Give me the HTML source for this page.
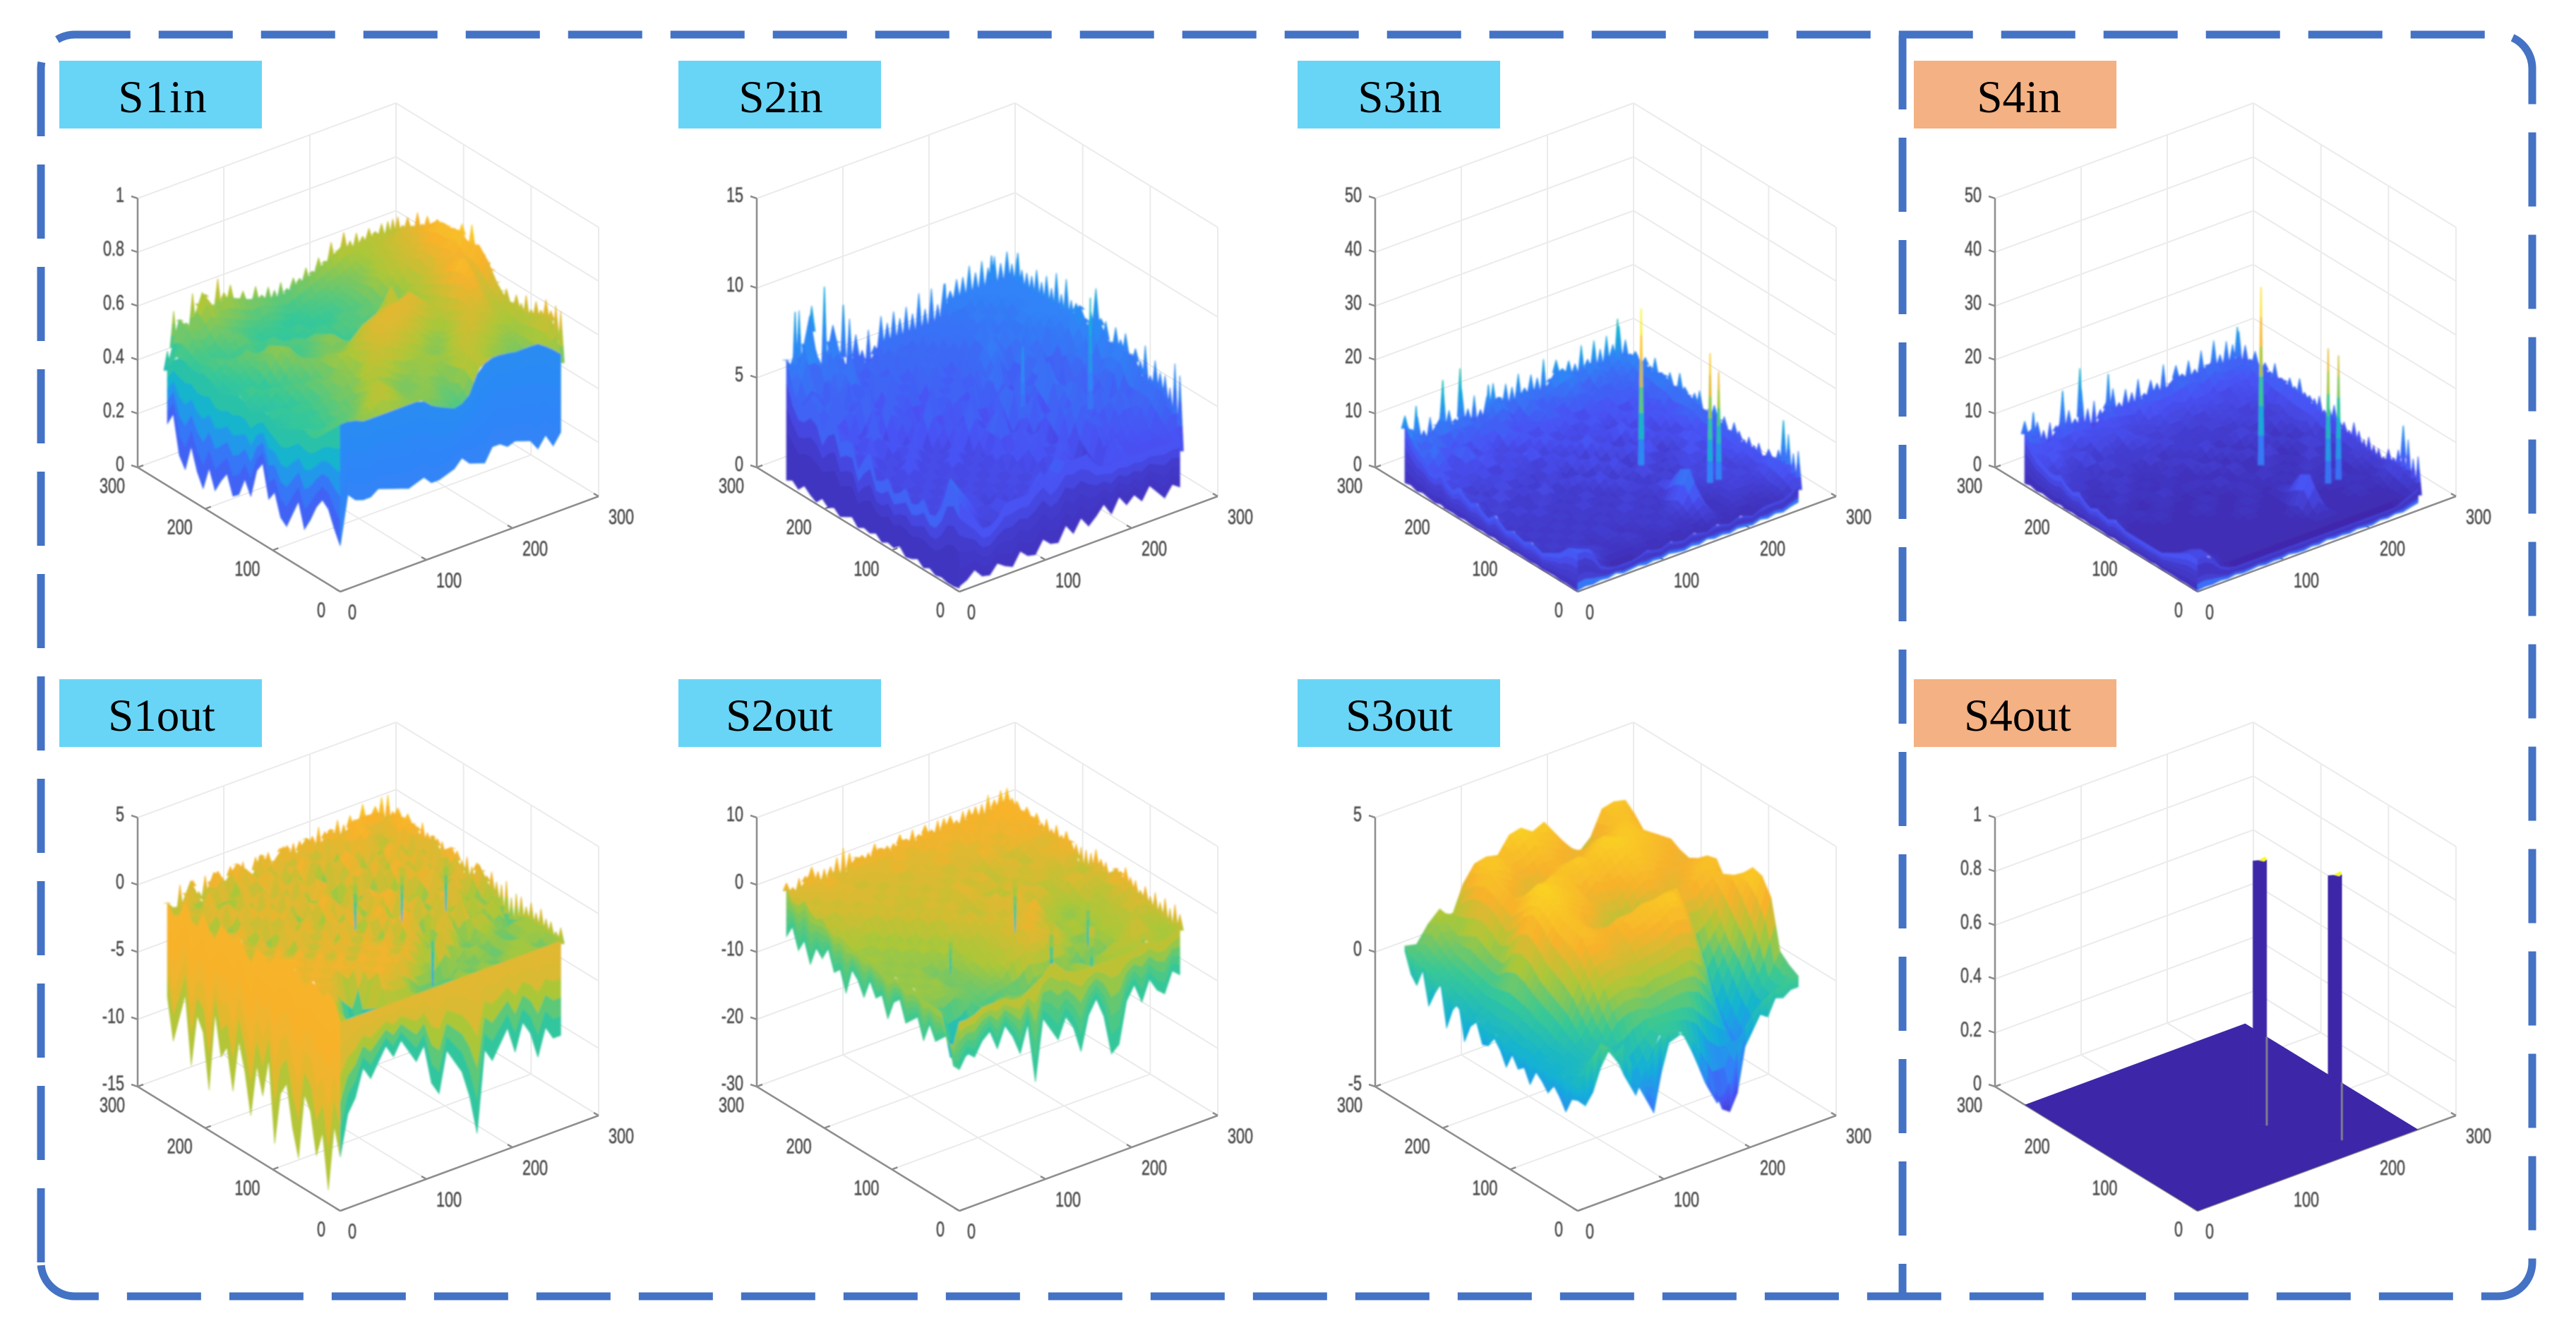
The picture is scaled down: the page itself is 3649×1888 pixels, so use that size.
<!DOCTYPE html>
<html lang="en">
<head>
<meta charset="utf-8">
<title>S1–S4 input and output surfaces</title>
<style>
html,body{margin:0;padding:0;background:#fff}
svg{display:block}
.box-label{font-family:"Liberation Serif",serif;font-size:65px;fill:#000;text-anchor:middle}
.tick{font-family:"Liberation Sans",sans-serif;font-size:30px;fill:#484848;stroke:#484848;stroke-width:0.5}
</style>
</head>
<body>
<svg id="chart-root" width="3649" height="1888" viewBox="0 0 3649 1888">
<defs>
<filter id="soft" x="-5%" y="-5%" width="110%" height="110%"><feGaussianBlur stdDeviation="1.2"/></filter>
<filter id="softText" x="-5%" y="-5%" width="110%" height="110%"><feGaussianBlur stdDeviation="0.7"/></filter>
</defs>
<rect x="0" y="0" width="3649" height="1888" fill="#fff"/>
<g id="panels"></g>
<path d="M58 1788 V97 A48 48 0 0 1 106 49 H3539 A48 48 0 0 1 3587 97 V1788 A48 48 0 0 1 3539 1836 H106 A48 48 0 0 1 58 1788" fill="none" stroke="#4472c4" stroke-width="11" stroke-dasharray="105 40"/>
<line x1="2695" y1="50" x2="2695" y2="1836" stroke="#4472c4" stroke-width="11" stroke-dasharray="105 40"/>
<g><rect x="84" y="86" width="287" height="96" fill="#69d5f6"/><text class="box-label" x="231" y="159" letter-spacing="2">S1in</text></g>
<g><rect x="961" y="86" width="287" height="96" fill="#69d5f6"/><text class="box-label" x="1106" y="159">S2in</text></g>
<g><rect x="1838" y="86" width="287" height="96" fill="#69d5f6"/><text class="box-label" x="1983" y="159">S3in</text></g>
<g><rect x="2711" y="86" width="287" height="96" fill="#f4b183"/><text class="box-label" x="2860" y="159">S4in</text></g>
<g><rect x="84" y="962" width="287" height="96" fill="#69d5f6"/><text class="box-label" x="229" y="1035">S1out</text></g>
<g><rect x="961" y="962" width="287" height="96" fill="#69d5f6"/><text class="box-label" x="1104" y="1035">S2out</text></g>
<g><rect x="1838" y="962" width="287" height="96" fill="#69d5f6"/><text class="box-label" x="1982" y="1035">S3out</text></g>
<g><rect x="2711" y="962" width="287" height="96" fill="#f4b183"/><text class="box-label" x="2858" y="1035">S4out</text></g>
</svg>
<script>
const floorTicks=[0,100,200,300];
const s1inZTicks=[0,0.2,0.4,0.6,0.8,1];
const s2inZTicks=[0,5,10,15];
const s3inZTicks=[0,10,20,30,40,50];
const s4inZTicks=[0,10,20,30,40,50];
const s1outZTicks=[-15,-10,-5,0,5];
const s2outZTicks=[-30,-20,-10,0,10];
const s3outZTicks=[-5,0,5];
const s4outZTicks=[0,0.2,0.4,0.6,0.8,1];

/* S1in heights, in hundredths. Rows run from back (y=256) to front (y=0); columns from x=0 to x=256. */
const s1inZ=[
[44,60,55,67,60,62,60,58,57,55,55,57,58,60,62,65,63,64,65,63],
[50,58,56,60,58,56,54,52,54,52,50,52,54,56,58,60,62,64,66,66],
[50,54,52,56,54,52,50,52,50,48,50,52,52,54,56,58,62,66,68,70],
[48,52,50,54,56,52,50,48,50,52,48,50,50,54,56,60,64,66,70,72],
[50,54,52,50,52,50,54,50,48,50,52,50,54,52,56,62,64,68,70,74],
[48,50,54,56,52,50,52,54,52,48,50,54,52,56,54,60,66,68,72,78],
[46,50,52,54,58,54,50,52,56,52,50,52,54,52,58,58,62,70,74,80],
[48,48,50,56,60,58,52,54,58,54,52,50,56,60,56,62,64,68,74,80],
[50,52,48,52,58,56,54,56,60,56,54,52,62,70,60,60,66,72,76,81],
[46,50,52,50,54,58,56,58,56,58,56,58,56,62,62,62,68,74,72,78],
[48,46,50,54,52,56,60,58,62,66,68,70,70,72,68,64,70,78,70,80],
[50,50,48,52,56,54,62,62,66,70,71,72,72,70,66,64,72,80,68,76],
[46,48,52,50,56,58,60,64,70,71,72,70,68,62,60,66,74,76,66,70],
[48,50,48,54,54,60,58,66,70,70,68,66,60,58,62,68,72,70,64,66],
[50,48,52,52,58,56,64,68,68,66,62,60,58,60,66,70,68,66,62,66],
[52,50,50,56,54,62,66,64,60,58,60,62,60,64,70,68,64,60,60,64],
[50,52,54,54,58,64,60,58,56,60,62,58,62,68,66,62,60,58,60,66],
[54,52,52,58,62,66,62,58,58,60,56,56,66,66,62,60,58,56,60,68],
[58,56,58,62,68,64,60,58,60,58,54,58,66,64,60,58,60,58,60,69],
[62,62,60,60,60,60,60,60,56,54,52,54,64,66,66,65,65,65,62,58]];
const s1inHemLeft=[23,28,14,10,20,12,7,16,9,14,18,11,13,20,15,26,30,18,22,14,12,18,24,15,20,26,30,28,22,17];
const s1inHemRight=[17,35,32,31,31,33,32,31,30,29,30,31,28,28,29,30,33,30,29,28,33,33,31,32,31,30,26,30,25,29];
const s1inFringeBack=[50,64,60,58,68,62,66,60,70,64,66,60,62,58,62,58,60,58,60,57,60,59,62,60,64,62,68,64,70,66,68,66,68,66,68,66];
const s1inFringeSide=[68,70,72,70,74,72,78,75,79,76,80,78,80,80,80,84,78,86,76,70,70,74,70,68,70,66,70,68,72,68,72,70,75,72,75,74];
const s1inSpikes=[];

/* S2in heights. */
const s2inZ=[
[7,6,9,5,8,5,6,5,6,6,6,6,6,6,7,7,7,7,7,7],
[5,7,4,7,5,6,4,6,5,6,5,6,6,6,6,6,7,7,7,7],
[5,4,6,5,7,4,6,4,6,5,6,5,6,6,6,7,6,7,7,7],
[6,5,3,6,4,6,5,6,4,6,5,6,5,6,6,6,7,6,7,7],
[4,6,5,4,6,3,6,4,6,5,6,4,6,5,7,6,6,7,7,7],
[6,3,5,6,3,6,4,6,3,6,4,6,5,6,5,7,6,7,7,7],
[4,5,3,4,6,4,5,3,6,4,6,4,6,7,6,5,7,6,7,7],
[5,3,6,3,4,5,3,6,4,6,3,6,5,6,4,7,5,7,6,7],
[3,5,3,5,3,4,6,3,5,4,6,4,7,3,6,5,6,4,7,8],
[5,3,4,3,5,3,4,5,3,6,3,5,4,6,4,7,3,6,6,7],
[3,4,3,5,3,4,3,4,6,3,5,6,3,5,6,4,6,5,7,8],
[4,3,5,3,4,3,5,3,4,5,3,6,5,3,7,5,3,6,5,7],
[3,4,3,4,3,5,3,4,3,6,4,3,6,4,5,6,4,5,6,7],
[4,3,4,3,4,3,4,3,5,3,5,4,3,6,4,6,5,3,6,7],
[3,4,3,4,3,4,3,4,3,5,4,5,3,5,6,4,6,5,4,7],
[4,3,4,3,4,3,4,3,4,3,5,3,5,3,5,5,4,6,5,6],
[3,4,3,4,3,4,3,4,3,4,3,5,4,2,5,4,5,4,5,6],
[4,5,3,4,3,3,4,3,4,3,4,4,3,2,4,4,4,5,4,6],
[6,5,4,3,4,3,3,4,4,5,4,4,3,2,5,4,4,4,4,5],
[5,4,3,3,4,4,4,5,4,5,5,5,4,4,4,4,4,4,4,4]];
const s2inHemLeft=[0.3,0.5,0.2,0.6,0.3,0.1,0.5,0.2,0.4,0.1,0.3,0.5,0.1,0.3,0.2,0.4,0.1,0.3,0.2,0.5,0.1,0.2,0.4,0.1,0.3,0.1,0.2,0.1,0.1,0.2];
const s2inHemRight=[0.3,0.5,0.9,0.4,0.3,0.8,0.5,0.3,1,0.6,0.5,1.2,0.8,0.7,1.5,0.9,1.6,1,1.4,1.9,1.2,2,1.4,1.8,1.3,2,1.5,1,1.6,1.3];
const s2inFringeBack=[7,7,9.5,6,9.5,6.5,8,6,7,6,8,7,6,7,6,7.5,7,7.5,7,7.5,7,8,7,8,7,8,7.5,8,8,8.5,8,8.5,8,8.5,8,8.5];
const s2inFringeSide=[8.5,8,8.5,8,8,8,8.5,8,8.5,8,9,8,9,8,8,8,7.5,8,9.5,8,8,7,8,7.5,8,7,7.5,7,8,6.5,7.5,7,7,6.5,8,7.5];
const s2inSpikes=[[192,51,11.8,5.6],[145,91,9,5],[44,256,10.3,6],[10,256,9.5,6],[66,256,8.9,6],[238,256,8.6,7],[256,240,8.8,7],[184,256,8,6]];

/* S3in heights. */
const s3inZ=[
[11,9,7,10,8,9,7,8,10,8,9,9,8,11,10,9,10,9,10,9],
[8,6,9,5,8,6,8,6,7,5,9,6,8,7,9,6,9,7,9,10],
[7,9,5,7,4,7,5,8,5,7,6,8,5,8,6,8,6,8,7,10],
[5,7,4,8,5,6,4,6,7,4,7,5,7,4,7,5,8,6,8,9],
[7,4,6,4,7,4,6,4,5,7,4,6,4,7,5,7,4,7,6,10],
[4,6,4,6,3,6,4,7,4,5,6,4,6,5,4,6,7,5,7,9],
[6,3,5,4,6,4,5,3,6,4,5,7,4,6,7,4,5,7,5,9],
[4,5,3,6,3,5,3,6,4,6,3,5,6,3,5,7,4,6,6,9],
[5,3,6,3,5,3,5,4,3,5,6,3,5,6,4,5,6,4,7,8],
[3,5,3,4,3,6,3,5,5,3,4,6,3,4,7,3,5,6,5,8],
[5,3,5,3,5,3,4,3,4,6,3,5,4,6,3,5,4,7,5,8],
[3,4,3,5,3,4,3,5,3,4,5,3,6,3,5,4,7,4,6,7],
[4,3,4,3,4,3,5,3,4,3,5,4,3,5,3,6,4,6,5,7],
[3,4,3,4,3,4,3,4,3,5,3,4,5,3,6,4,5,4,6,6],
[4,3,4,3,4,3,4,3,5,3,4,3,6,4,4,5,6,4,5,6],
[3,4,3,4,3,4,3,4,3,4,3,4,9,3,4,4,4,5,4,6],
[4,3,4,3,3,4,3,3,4,3,4,5,10,3,3,4,5,4,5,7],
[5,5,4,4,3,3,4,3,3,4,3,4,6,3,3,4,3,4,4,7],
[7,6,5,3,3,3,3,3,3,3,3,3,4,3,3,3,3,3,4,6],
[7,7,3,2,2,2,3,2,3,2,3,2,3,2,3,2,3,3,3,5]];
const s3inHemLeft=[0.5,0.8,0.3,0.7,0.4,0.2,0.6,0.3,0.4,0.2,0.5,0.3,0.2,0.4,0.2,0.5,0.2,0.3,0.1,0.3,0.2,0.1,0.3,0.1,0.2,0.3,0.1,0.2,0.1,0.1];
const s3inHemRight=[0.2,0.5,0.3,0.6,0.4,0.8,0.3,0.5,0.7,0.3,0.6,0.4,0.8,0.5,0.3,0.7,0.4,0.9,0.5,0.7,0.4,0.8,0.6,0.4,0.9,0.6,1,0.7,1.2,1.5];
const s3inFringeBack=[13,10,12,9,11,9,17,11,9,14,10,12,9,11,13,10,12,11,13,10,12,11,14,10,13,11,12,11,14,11,14,12,14,12,15,11];
const s3inFringeSide=[12,10,11,9,11,10,12,9,10,11,9,12,10,9,10,11,8,9,10,8,9,7,9,8,7,8,7,8,6,8,7,9,11,13,10,11];
const s3inSpikes=[[145,91,37,8],[174,26,32,8],[184,26,28,8],[243,251,17,10],[64,256,18,9],[44,256,17,8],[13,256,14,8],[97,256,13,8],[256,22,15,8]];

/* S4in heights. */
const s4inZ=[
[10,9,6,9,8,8,6,9,8,8,8,9,8,10,9,9,10,9,9,8],
[7,6,8,5,7,6,7,6,6,5,8,6,7,6,8,6,8,7,8,9],
[6,8,5,6,4,7,5,7,5,6,5,7,5,7,6,7,5,7,6,9],
[5,6,4,7,4,5,4,6,6,4,6,4,6,4,6,5,7,6,7,8],
[6,4,5,3,6,4,5,4,5,6,4,5,4,6,5,6,4,6,5,9],
[4,5,3,5,3,5,3,6,3,4,5,4,5,4,4,5,6,4,6,8],
[5,3,4,4,5,3,4,3,5,4,4,6,3,5,6,4,4,6,5,8],
[3,4,3,5,3,4,3,5,3,5,3,4,5,3,4,6,3,5,5,8],
[4,3,5,3,4,3,4,3,3,4,5,3,4,5,3,4,5,3,6,7],
[3,4,3,3,3,5,3,4,4,3,3,5,3,3,6,3,4,5,4,7],
[4,3,4,3,4,3,3,3,3,5,3,4,3,5,3,4,3,6,4,7],
[3,3,3,4,3,3,3,4,3,3,4,3,5,3,4,3,6,3,5,6],
[3,3,3,3,3,3,4,3,3,3,4,3,3,4,3,5,3,5,4,6],
[3,3,3,3,3,3,3,3,3,4,3,3,4,3,5,3,4,3,5,5],
[3,3,3,3,3,3,3,3,4,3,3,3,5,3,3,4,5,3,4,5],
[3,3,3,3,3,3,3,3,3,3,3,3,8,3,3,3,3,4,3,5],
[4,3,3,3,3,3,3,3,3,3,3,4,9,3,3,3,4,3,4,6],
[5,5,3,3,3,3,3,3,3,3,3,3,5,3,3,3,3,3,3,6],
[6,6,4,3,3,3,3,3,3,3,3,3,3,3,3,3,3,3,3,5],
[6,6,3,2,2,2,2,2,2,2,2,2,2,2,2,2,2,2,3,4]];
const s4inHemLeft=[0.4,0.7,0.3,0.6,0.3,0.2,0.5,0.2,0.4,0.2,0.4,0.2,0.3,0.3,0.1,0.4,0.2,0.3,0.1,0.2,0.2,0.1,0.3,0.1,0.2,0.2,0.1,0.2,0.1,0.1];
const s4inHemRight=[0.2,0.4,0.3,0.5,0.3,0.6,0.3,0.4,0.6,0.3,0.5,0.4,0.7,0.4,0.3,0.6,0.4,0.8,0.5,0.6,0.4,0.7,0.5,0.4,0.8,0.6,0.9,0.7,1.1,1.4];
const s4inFringeBack=[12,10,11,9,10,9,15,11,9,14,10,11,9,10,12,9,11,10,12,9,11,10,13,9,12,10,12,10,13,10,14,11,13,12,14,10];
const s4inFringeSide=[11,9,11,9,10,9,11,8,9,10,9,11,9,9,9,10,8,9,10,8,8,7,9,8,7,8,7,7,6,8,7,9,10,12,9,10];
const s4inSpikes=[[145,91,41,8],[172,26,33,8],[184,26,31,8],[243,251,15.5,10],[64,256,18,9],[44,256,15,8],[10,256,13,8],[97,256,15,8],[256,22,14,8]];

/* S1out heights. */
const s1outZ=[
[0,-1,1,-1,1,0,1,-1,1,0,1,0,1,0,1,0,1,1,1,0],
[-1,1,-2,0,1,-2,1,0,-1,1,-1,1,-1,1,0,1,1,0,0,1],
[1,-1,1,-1,-2,1,-1,1,-2,0,1,-1,1,-2,1,0,1,-1,1,1],
[-1,1,0,-2,1,0,-2,1,0,-2,1,-2,0,1,-1,1,-2,1,0,1],
[1,-2,1,0,-2,1,0,-2,1,0,-2,1,-1,1,-2,0,1,-1,1,0],
[-1,0,-2,1,0,-2,1,0,-2,1,0,-2,1,0,1,-2,1,0,-2,1],
[1,-1,1,-1,1,0,-2,1,-1,1,-2,0,1,-2,0,1,-1,1,0,0],
[0,1,-2,1,-1,1,-1,0,1,-2,1,-1,-2,1,-2,1,0,-2,1,1],
[1,-1,0,-2,1,-2,1,-2,1,0,-2,1,0,-2,1,-1,1,0,-1,0],
[-1,1,-1,1,0,1,-1,1,-2,1,-1,0,1,-1,0,-2,1,-1,1,-1],
[1,-1,1,-2,1,-1,1,0,1,-2,1,-2,1,0,-2,1,-1,1,-1,1],
[0,1,-1,1,-1,1,-2,1,-1,0,1,-1,-2,1,-1,0,1,-1,-2,0],
[1,0,1,-1,1,0,1,-1,1,-2,0,1,-1,-2,1,-1,-2,0,-1,-1],
[1,1,0,1,-1,1,-1,1,-1,1,-2,1,-1,0,-2,1,-1,-2,0,-2],
[1,0,1,0,1,-1,1,0,1,-1,1,-1,-2,1,-1,-2,0,-1,-2,-2],
[0,1,0,1,0,1,0,1,-1,1,-1,-1,1,-1,-2,-1,-1,-2,-1,-1],
[1,0,1,0,1,0,1,0,1,-1,-1,1,-2,-1,-1,-2,-1,-2,-1,-1],
[0,1,-3,-4,0,1,0,1,-1,-1,-2,-2,-1,-2,-1,-2,-1,-1,-1,-1],
[1,-2,-5,-4,1,0,0,-2,-2,-2,-2,-1,-2,-1,-2,-1,-1,-1,-2,-1],
[-1,-1,-1,-1,-1,-1,-1,-1,-1,-1,-1,-1,-1,-1,-1,-1,-1,-1,-1,-1]];
const s1outHemLeft=[-7,-10,-8,-6,-11,-7,-8,-12,-6,-9,-8,-11,-7,-9,-12,-8,-10,-7,-13,-9,-8,-11,-13,-8,-9,-12,-10,-14,-9,-11];
const s1outHemRight=[-11,-8,-7,-5,-6,-5,-4,-5,-4,-5,-6,-5,-8,-9,-6,-7,-8,-10,-13,-7,-8,-7,-6,-8,-6,-7,-9,-7,-8,-8];
const s1outFringeBack=[0,-0.5,1,0,1,0,1,-0.5,1,0,1,1,1,0,1,1,1,0,1,1,1,1,1,1,1.5,1,1,1.5,1,1.5,1,2,1,1.5,2,1.5];
const s1outFringeSide=[2,1,1.5,1,1.5,1,1,1.5,1,1,1,1,0.5,1,1,0.5,1,0.5,1,0.5,0.5,1,0.5,0.5,1,0,0.5,0.5,0,0.5,0,0.5,0,0,-0.5,0];
const s1outSpikes=[[174,85,-5,0],[212,179,-4,0],[168,192,-4,0],[256,170,-4,0]];

/* S2out heights. */
const s2outZ=[
[2,1,3,1,2,1,3,2,3,2,3,2,3,2,3,2,3,2,3,3],
[0,2,1,3,1,2,1,2,1,3,1,3,2,3,2,3,2,3,3,3],
[2,0,2,1,2,0,2,1,3,1,2,1,3,1,3,2,3,2,3,3],
[0,2,0,2,1,2,0,2,0,2,1,3,1,2,1,3,1,3,2,3],
[1,-1,2,0,2,0,2,0,2,1,2,0,2,1,3,1,3,2,3,2],
[-1,1,0,2,0,2,0,2,0,2,0,2,1,0,2,1,0,2,1,2],
[0,-1,1,-1,2,0,1,0,2,0,2,0,2,0,1,2,0,2,2,2],
[-1,0,-2,1,-1,2,0,2,0,1,2,1,2,0,2,0,2,1,2,3],
[-1,-2,0,-2,1,-1,2,0,2,0,2,0,-1,2,0,2,1,0,2,0],
[-1,-1,-2,0,-2,1,-1,2,0,0,1,2,0,2,1,-1,0,1,0,0],
[-1,-2,-1,-2,0,-2,1,0,2,0,2,1,3,0,2,0,0,2,1,2],
[-2,-1,-2,-1,-2,0,-1,1,0,2,0,2,1,-1,0,-1,-1,1,0,1],
[-1,-2,-1,-3,-1,-2,0,-1,1,0,2,1,3,0,-1,-2,-1,0,-1,3],
[-2,-1,-2,-2,-3,-1,-1,0,0,2,1,3,0,-2,-1,-1,0,-1,1,2],
[-1,-2,-1,-3,-2,-2,0,-1,1,0,3,0,1,-1,0,-2,-1,0,0,1],
[-2,-1,-2,-2,-3,-2,-1,0,0,2,1,2,0,-2,-3,-1,0,-1,2,1],
[-2,-3,-2,-3,-3,-2,-2,0,1,0,1,0,-3,-1,-2,-1,-1,0,0,0],
[-2,-7,-7,-3,-4,-4,-3,-4,-2,-2,-3,-2,-4,-2,-3,-1,0,1,-1,0],
[-8,-9,-8,-3,-2,-2,-3,-2,-3,-2,-2,-1,-2,-1,0,0,1,0,-1,-1],
[-2,-2,-1,-1,-1,-2,-1,0,2,0,-1,-1,-1,-1,-1,-1,0,-1,-1,0]];
const s2outHemLeft=[-5,-3,-6,-4,-7,-4,-5,-3,-6,-5,-8,-4,-5,-7,-4,-6,-5,-8,-5,-4,-7,-6,-5,-8,-5,-7,-6,-5,-9,-9];
const s2outHemRight=[-9,-7,-8,-6,-5,-8,-5,-7,-10,-6,-15,-6,-8,-10,-7,-9,-13,-8,-6,-9,-15,-14,-8,-6,-9,-6,-8,-9,-6,-7];
const s2outFringeBack=[3,2,3,3,4,3,3,3,4,3,4,3,3,3,4,3,3,3,4,3,4,3,4,3,4,4,4,3,4,4,4,4,5,4,5,4];
const s2outFringeSide=[5,4,4,3,4,3,4,3,4,3,4,3,4,3,3,3,3,3,4,3,3,2,3,3,4,3,3,2,3,2,3,2,3,2,3,2];
const s2outSpikes=[[66,256,5,1],[187,156,-7,1],[161,69,-10,1],[185,40,-8,1],[223,94,-7,1],[83,119,-6,1],[223,12,-5,1]];

/* S3out heights, in tenths. */
const s3outZ=[
[9,8,14,18,13,24,30,31,30,36,37,34,36,30,24,20,24,33,34,33],
[6,10,16,14,20,30,34,33,31,33,36,33,31,28,24,22,27,32,33,30],
[5,8,12,12,24,32,35,33,28,28,31,30,27,26,27,26,30,33,32,26],
[4,6,9,14,26,34,31,28,24,24,28,28,25,28,32,30,34,34,30,25],
[2,4,8,16,26,32,27,24,25,26,30,31,30,33,36,34,35,33,31,28],
[0,3,7,14,24,30,26,26,30,32,34,35,33,36,37,36,34,33,30,29],
[-2,2,6,12,20,30,32,33,35,33,32,34,30,34,36,34,32,30,28,27],
[-4,0,5,12,24,34,37,36,33,32,26,30,28,29,33,33,30,28,26,26],
[-2,0,6,18,30,37,38,35,33,30,26,24,24,28,31,30,26,26,28,28],
[-5,-1,7,20,33,37,36,33,30,28,22,20,18,24,26,26,24,27,30,31],
[-3,0,6,18,30,35,33,30,26,22,18,18,16,16,22,24,26,30,33,32],
[-5,-1,5,14,26,33,32,28,22,22,24,24,20,22,28,28,28,32,32,26],
[-6,-2,3,12,24,32,31,29,28,30,30,32,32,33,33,22,22,26,32,30],
[-5,-2,2,10,22,31,30,28,24,30,32,33,35,35,28,6,12,18,32,33],
[-7,-4,0,8,18,26,27,25,22,27,28,30,33,32,20,-6,4,12,28,37],
[-5,-3,-1,4,12,20,22,22,20,22,22,24,26,24,12,-14,-4,8,22,36],
[-6,-4,-2,0,6,14,16,16,14,16,16,17,18,14,2,-18,-10,2,14,30],
[-4,-3,-2,0,2,8,10,10,8,9,10,10,8,2,-6,-20,-14,-2,4,12],
[-5,-2,1,3,0,-4,0,4,5,4,3,0,-8,-12,-12,-16,-8,-2,3,9],
[-4,3,9,5,-6,-15,-5,4,4,2,-8,-20,-29,-25,-8,-1,3,5,6,7]];
const s3outHemLeft=[7,0,-3,4,-8,-2,3,-12,-4,0,-13,-6,-3,-10,-9,-5,-8,-13,-7,-11,-9,-14,-8,-10,-13,-9,-12,-16,-10,-9];
const s3outHemRight=[-9,-12,-8,0,5,3,6,-3,-12,-18,-24,-10,0,1,2,-2,-8,-14,-24,-32,-34,-28,-12,-7,-2,-4,2,1,3,3];
const s3outFringeBack=[];
const s3outFringeSide=[];
const s3outSpikes=[];

/* S4out: flat floor with two narrow peaks. */
const s4outZ=[[0,0],[0,0]];
const s4outPeakX=[151,188];
const s4outPeakY=[90,26];
const s4outPeakZ=[0.99,0.99];

const parulaStops=[[0,62,38,168],[0.125,72,82,244],[0.25,46,135,247],[0.375,18,177,214],[0.5,55,200,151],[0.625,171,199,57],[0.75,247,178,44],[0.875,250,212,34],[1,249,251,21]];

const NS=document.getElementById('chart-root').namespaceURI;
const panelsRoot=document.getElementById('panels');

function parula(t){
  t=Math.max(0,Math.min(1,t));
  for(let i=1;i<parulaStops.length;i++){
    if(t<=parulaStops[i][0]){
      const a=parulaStops[i-1],b=parulaStops[i];
      const f=(t-a[0])/(b[0]-a[0]);
      return 'rgb('+Math.round(a[1]+(b[1]-a[1])*f)+','+Math.round(a[2]+(b[2]-a[2])*f)+','+Math.round(a[3]+(b[3]-a[3])*f)+')';
    }
  }
  return 'rgb(249,251,21)';
}
function make(parent,tag,attrs){
  const el=document.createElementNS(NS,tag);
  for(const k in attrs){el.setAttribute(k,attrs[k]);}
  parent.appendChild(el);
  return el;
}
function axisFunctions(ox,oy,zMin,zMax){
  return {
    px:(x,y)=>ox+482+x/300*366-y/300*287,
    py:(x,y,z)=>oy+838-x/300*135-y/300*176-(z-zMin)/(zMax-zMin)*381
  };
}
function pts(list){return list.map(p=>p[0].toFixed(1)+','+p[1].toFixed(1)).join(' ');}

function drawAxes(name,ax,zTicks){
  const zMin=zTicks[0],zMax=zTicks[zTicks.length-1];
  const grid=make(panelsRoot,'g',{stroke:'#ebebeb','stroke-width':2,fill:'none'});
  
  
  const seg=(parent,a,b)=>make(parent,'line',{x1:ax.px(a[0],a[1]),y1:ax.py(a[0],a[1],a[2]),x2:ax.px(b[0],b[1]),y2:ax.py(b[0],b[1],b[2])});
  for(const t of floorTicks){
    const l1=seg(grid,[t,0,zMin],[t,300,zMin]);
    
    
    const l2=seg(grid,[0,t,zMin],[300,t,zMin]);
    
    
    const l3=seg(grid,[t,300,zMin],[t,300,zMax]);
    
    
    const l4=seg(grid,[300,t,zMin],[300,t,zMax]);
    
    
  }
  for(const z of zTicks){
    const l5=seg(grid,[0,300,z],[300,300,z]);
    
    
    const l6=seg(grid,[300,300,z],[300,0,z]);
    
    
  }
  const axes=make(panelsRoot,'g',{stroke:'#8f8f8f','stroke-width':2.6,fill:'none'});
  
  
  const zLine=seg(axes,[0,300,zMin],[0,300,zMax]);
  
  
  const xLine=seg(axes,[0,0,zMin],[300,0,zMin]);
  
  
  const yLine=seg(axes,[0,0,zMin],[0,300,zMin]);
  
  
  const labels=make(panelsRoot,'g',{filter:'url(#softText)'});
  
  
  const label=(x,y,anchor)=>{
    return make(labels,'text',{class:'tick','text-anchor':anchor,transform:'translate('+x+','+y+') scale(0.72,1)'});
  };
  for(const z of zTicks){
    const x=ax.px(0,300),y=ax.py(0,300,z);
    const tick=make(axes,'line',{x1:x,y1:y,x2:x-9,y2:y-3});
    
    
    const t=label(x-19,y+5,'end');
    t.textContent=String(z);
    
    
  }
  for(const v of floorTicks){
    const xx=ax.px(v,0),xy=ax.py(v,0,zMin);
    const xTick=make(axes,'line',{x1:xx,y1:xy,x2:xx-7,y2:xy-4});
    
    
    const xText=label(xx+(v===0?17:32),xy+39,'middle');
    xText.textContent=String(v);
    
    
    const yx=ax.px(0,v),yy=ax.py(0,v,zMin);
    const yTick=make(axes,'line',{x1:yx,y1:yy,x2:yx+8,y2:yy-3});
    
    
    const yText=label(yx-(v===0?27:36),yy+36,'middle');
    yText.textContent=String(v);
    
    
  }
}

const SPAN=256;
function drawSurface(name,ax,grid,scale,cMin,cMax,hemLeft,hemRight,shadeLeft,shadeRight,fringeBack,fringeSide,spikes){
  const g=make(panelsRoot,'g',{filter:'url(#soft)'});
  
  
  const rows=grid.length,cols=grid[0].length;
  const shade=z=>parula((z-cMin)/(cMax-cMin));
  const sample=(get,len,t)=>{
    const m=t*(len-1),j=Math.min(len-2,Math.floor(m));
    return (get(j)+(get(j+1)-get(j))*(m-j))*scale;
  };
  const fringe=(values,edgeXY,edgeZ)=>{
    values.forEach((v,i)=>{
      const t=i/(values.length-1);
      const p=edgeXY(t),cx=ax.px(p[0],p[1]);
      const top=v*scale,base=edgeZ(t)-Math.abs(top-edgeZ(t))*0.2;
      const B=3;
      for(let k=0;k<B;k++){
        const z0=base+(top-base)*k/B,z1=base+(top-base)*(k+1)/B;
        const w0=5*(1-k/B)+0.3,w1=5*(1-(k+1)/B)+0.3;
        const col=shade((z0+z1)/2);
        const tooth=make(g,'polygon',{points:pts([[cx-w0,ax.py(p[0],p[1],z0)],[cx+w0,ax.py(p[0],p[1],z0)],[cx+w1,ax.py(p[0],p[1],z1)],[cx-w1,ax.py(p[0],p[1],z1)]]),fill:col,stroke:col,'stroke-width':0.5});
        
        
      }
    });
  };
  fringe(fringeBack,t=>[t*SPAN,SPAN],t=>sample(j=>grid[0][j],cols,t));
  fringe(fringeSide,t=>[SPAN,(1-t)*SPAN],t=>sample(j=>grid[j][cols-1],rows,t));
  const S=2;
  for(let r=0;r<rows-1;r++){
    for(let c=cols-2;c>=0;c--){
      const z00=grid[r][c]*scale,z01=grid[r][c+1]*scale,z10=grid[r+1][c]*scale,z11=grid[r+1][c+1]*scale;
      for(let sv=0;sv<S;sv++){
        for(let su=S-1;su>=0;su--){
          const corner=(u,v)=>{
            const z=(z00*(1-u)+z01*u)*(1-v)+(z10*(1-u)+z11*u)*v;
            const x=(c+u)/(cols-1)*SPAN,y=(rows-1-r-v)/(rows-1)*SPAN;
            return [ax.px(x,y),ax.py(x,y,z),z];
          };
          const q=[corner(su/S,sv/S),corner((su+1)/S,sv/S),corner((su+1)/S,(sv+1)/S),corner(su/S,(sv+1)/S)];
          const col=shade((q[0][2]+q[1][2]+q[2][2]+q[3][2])/4);
          const facet=make(g,'polygon',{points:pts(q),fill:col,stroke:col,'stroke-width':1});
          
          
        }
      }
    }
  }
  for(const s of spikes){
    const x=s[0],y=s[1],top=s[2],base=s[3];
    const B=6;
    for(let k=0;k<B;k++){
      const z0=base+(top-base)*k/B,z1=base+(top-base)*(k+1)/B;
      const w0=3.5*(1-k/B)+0.5,w1=3.5*(1-(k+1)/B)+0.5;
      const cx=ax.px(x,y);
      const col=shade((z0+z1)/2);
      const band=make(g,'polygon',{points:pts([[cx-w0,ax.py(x,y,z0)],[cx+w0,ax.py(x,y,z0)],[cx+w1,ax.py(x,y,z1)],[cx-w1,ax.py(x,y,z1)]]),fill:col,stroke:col,'stroke-width':0.6});
      
      
    }
  }
  const wall=(hem,shades,edgeTop,edgeXY,order)=>{
    const n=hem.length,B=5;
    for(const i of order(n)){
      const t0=i/(n-1),t1=(i+1)/(n-1);
      const top0=edgeTop(t0),top1=edgeTop(t1);
      const bot0=hem[i]*scale,bot1=hem[i+1]*scale;
      const a=edgeXY(t0),b=edgeXY(t1);
      for(let k=0;k<B;k++){
        const f0=k/B,f1=(k+1)/B;
        const za0=top0+(bot0-top0)*f0,za1=top0+(bot0-top0)*f1;
        const zb0=top1+(bot1-top1)*f0,zb1=top1+(bot1-top1)*f1;
        let col;
        if(shades){
          const m=(f0+f1)/2*(shades.length-1),j=Math.min(shades.length-2,Math.floor(m));
          col=parula(shades[j]+(shades[j+1]-shades[j])*(m-j));
        }else{
          col=shade((za0+za1+zb0+zb1)/4);
        }
        const band=make(g,'polygon',{points:pts([[ax.px(a[0],a[1]),ax.py(a[0],a[1],za0)],[ax.px(b[0],b[1]),ax.py(b[0],b[1],zb0)],[ax.px(b[0],b[1]),ax.py(b[0],b[1],zb1)],[ax.px(a[0],a[1]),ax.py(a[0],a[1],za1)]]),fill:col,stroke:col,'stroke-width':0.8});
        
        
      }
    }
  };
  const asc=n=>{const o=[];for(let i=0;i<n-1;i++){o.push(i);}return o;};
  const desc=n=>asc(n).reverse();
  wall(hemLeft,shadeLeft,t=>sample(j=>grid[j][0],rows,t),t=>[0,(1-t)*SPAN],asc);
  wall(hemRight,shadeRight,t=>sample(j=>grid[rows-1][j],cols,t),t=>[t*SPAN,0],desc);
}

function drawPeaks(name,ax,xs,ys,zs){
  const g=make(panelsRoot,'g',{filter:'url(#softText)'});
  
  
  const colW=20;
  xs.forEach((x,i)=>{
    const y=ys[i],z=zs[i];
    const fx=ax.px(x,y),fy=ax.py(x,y,0),ty=ax.py(x,y,z);
    const col=make(g,'polygon',{points:pts([[fx-colW,ty+2],[fx,ty],[fx,fy],[fx-colW,fy]]),fill:parula(0)});
    
    
    const cap=make(g,'polygon',{points:pts([[fx-colW*0.6,ty+1],[fx-colW*0.1,ty-4],[fx,ty],[fx-colW*0.2,ty+3]]),fill:'#f9fb15'});
    
    
    const backX=ax.px(SPAN,SPAN),backY=ax.py(SPAN,SPAN,0);
    const rightX=ax.px(SPAN,0),rightY=ax.py(SPAN,0,0);
    const edgeY=backY+(fx-backX)/(rightX-backX)*(rightY-backY);
    const stem=make(g,'line',{x1:fx,y1:edgeY,x2:fx,y2:fy,stroke:'#8b8b8b','stroke-width':2.4});
    
    
  });
}

const COL=[0,877,1753,2631];
const ROW=[0,877];

function panel(name,col,row,zTicks,grid,scale,cMin,cMax,hemLeft,hemRight,shadeLeft,shadeRight,fringeBack,fringeSide,spikes){
  const ax=axisFunctions(COL[col],ROW[row],zTicks[0],zTicks[zTicks.length-1]);
  drawAxes(name,ax,zTicks);
  drawSurface(name,ax,grid,scale,cMin,cMax,hemLeft,hemRight,shadeLeft,shadeRight,fringeBack,fringeSide,spikes);
  return ax;
}

panel('s1in',0,0,s1inZTicks,s1inZ,0.01,0,1,s1inHemLeft,s1inHemRight,[0.5,0.38,0.22,0.14],[0.27,0.25,0.24],s1inFringeBack,s1inFringeSide,s1inSpikes);
panel('s2in',1,0,s2inZTicks,s2inZ,1,1,26,s2inHemLeft,s2inHemRight,[0.2,0.08,0.04,0.04],[0.14,0.06,0.04],s2inFringeBack,s2inFringeSide,s2inSpikes);
panel('s3in',2,0,s3inZTicks,s3inZ,1,1.5,36,s3inHemLeft,s3inHemRight,[0.16,0.07,0.04],[0.12,0.05,0.05,0.28],s3inFringeBack,s3inFringeSide,s3inSpikes);
panel('s4in',3,0,s4inZTicks,s4inZ,1,2,42,s4inHemLeft,s4inHemRight,[0.14,0.06,0.03],[0.1,0.04,0.05,0.25],s4inFringeBack,s4inFringeSide,s4inSpikes);
panel('s1out',0,1,s1outZTicks,s1outZ,1,-9,4,s1outHemLeft,s1outHemRight,[0.76,0.75,0.73,0.6],[0.72,0.7,0.55,0.46],s1outFringeBack,s1outFringeSide,s1outSpikes);
panel('s2out',1,1,s2outZTicks,s2outZ,1,-19,10,s2outHemLeft,s2outHemRight,[0.62,0.55,0.5],[0.68,0.55,0.48],s2outFringeBack,s2outFringeSide,s2outSpikes);
panel('s3out',2,1,s3outZTicks,s3outZ,0.1,-4,5,s3outHemLeft,s3outHemRight,null,null,s3outFringeBack,s3outFringeSide,s3outSpikes);
const s4outAxes=axisFunctions(COL[3],ROW[1],0,1);
drawAxes('s4out',s4outAxes,s4outZTicks);
const s4outFloor=make(panelsRoot,'polygon',{points:pts([[s4outAxes.px(0,SPAN),s4outAxes.py(0,SPAN,s4outZ[0][0])],[s4outAxes.px(SPAN,SPAN),s4outAxes.py(SPAN,SPAN,s4outZ[0][1])],[s4outAxes.px(SPAN,0),s4outAxes.py(SPAN,0,s4outZ[1][1])],[s4outAxes.px(0,0),s4outAxes.py(0,0,s4outZ[1][0])]]),fill:parula(0)});


drawPeaks('s4out',s4outAxes,s4outPeakX,s4outPeakY,s4outPeakZ);
</script>
</body>
</html>
